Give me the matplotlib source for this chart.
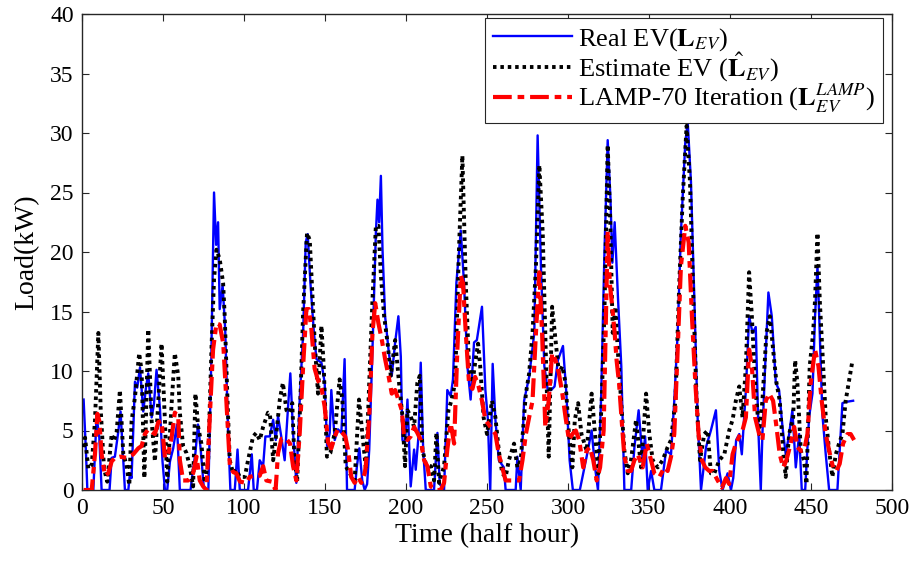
import matplotlib
matplotlib.use("Agg")
import matplotlib.pyplot as plt

# ---------------- data ----------------
t_real = [1, 2.5, 3.3, 7, 9, 10.7, 12.1, 17, 18.3, 20.3, 22.4, 23.8, 25.1, 26.5, 28.6, 29.6, 30.6,
          32.7, 34.1, 35.8, 37.8, 39.5, 40.9, 43, 44.4, 46, 48.1, 49.7, 51.2, 52.6, 54.3, 56.3, 58.6,
          60.4, 67, 68.5, 70, 71.6, 73.2, 75.2, 78, 79.6, 81.5, 82.8, 84, 85, 86.8, 88.4, 90.2, 91.6,
          94.3, 96, 97.4, 102.5, 104.8, 106, 108, 109.7, 111.8, 113.2, 115.9, 118, 119.6, 121, 123,
          125.1, 127.2, 128.6, 130.3, 132.3, 134.4, 136.5, 138.1, 139.3, 141, 143, 144.7, 147.8, 149.8,
          151.3, 152.9, 153.9, 156, 158, 160.1, 162.1, 163.6, 168.3, 169.7, 171.2, 173, 174.5, 176,
          177.3, 179.3, 181.4, 182.4, 183.4, 184.5, 185.5, 187.1, 189.2, 191.2, 193.3, 195.3, 196.8,
          197.8, 199.4, 200.9, 202.9, 205, 206, 207.7, 209.1, 210.6, 212.2, 217.3, 219.4, 220.8, 223.5,
          225.5, 227.6, 229, 231.1, 233.8, 235.8, 237.9, 239.9, 242, 243.75, 246.9, 249, 250.5, 252,
          253.5, 255.2, 257.3, 260.4, 261.5, 267.7, 268.75, 270.8, 272.9, 276, 279.2, 281.25, 283.3,
          285.4, 287.5, 289.6, 291.7, 293.75, 296.9, 299, 301, 303, 307.3, 311.5, 314.6, 316.7, 318.5,
          320.5, 322.5, 324.5, 326.2, 327.4, 328.8, 330.9, 332.9, 334.8, 339, 341, 343.6, 346.1, 347.6,
          349.2, 351.3, 353.3, 357.4, 360.5, 363.6, 365.6, 367.7, 369.7, 372.4, 373.9, 375.9, 378, 380,
          382.1, 385.2, 388.2, 391.3, 393.4, 395.4, 398.5, 400.6, 402, 403.8, 405.7, 407.3, 409.8,
          411.8, 413.9, 415.9, 417.6, 419, 420, 421.7, 423.7, 425.8, 428.3, 430.3, 432.4, 434.4, 436.5,
          438.5, 440.6, 442.7, 444.3, 446.4, 448.8, 450.9, 452.5, 454, 455.4, 457, 459.1, 461.2, 466.3,
          469.4, 471.4, 476]
real_ev = [7.6, 3.0, 0, 0, 6.2, 4.4, 0, 0, 2.7, 2.8, 4.9, 6.6, 3.5, 0, 0, 1.4, 1.0,
           9.1, 8.6, 10.3, 6.6, 8.6, 9.8, 6.1, 7.2, 10.1, 6.9, 2.4, 0, 0, 2.4, 3.5, 5.5,
           0, 0, 1.7, 3.1, 5.5, 3.5, 0.2, 0, 9.5, 25.0, 20.6, 22.5, 15.2, 17.2, 13.5, 4.8, 0,
           0, 3.4, 0, 0, 3.0, 0, 0, 2.5, 2.0, 4.5, 4.5, 5.9, 4.2, 6.2, 4.5,
           2.5, 7.0, 9.8, 4.8, 0.6, 7.6, 13.2, 20.8, 21.5, 17.4, 13.5, 11.0, 10.7, 9.0,
           3.7, 4.8, 8.4, 4.2, 5.1, 4.8, 11.0, 0, 0, 2.0, 3.5, 0.8, 0, 0.5,
           3.4, 11.8, 21.6, 24.4, 22.5, 26.4, 20.2, 14.6, 11.8, 9.6, 12.4, 14.6, 11.2,
           4.2, 3.9, 7.6, 0.3, 3.4, 1.7, 4.5, 10.7, 3.4, 0, 0, 4.8, 0.5, 0,
           8.4, 7.9, 9.3, 17.4, 21.8, 17.4, 10.4, 7.6, 12.4, 12.6, 15.4, 8.4, 6.0, 0,
           10.6, 5.9, 2.5, 1.9, 0, 0, 2.8, 0, 7.5, 9.5, 13.2, 29.8, 18.8,
           10.4, 8.4, 8.4, 8.7, 10.9, 12.1, 8.1, 2.5, 0, 0, 2.8, 5.0, 1.9, 0,
           8.0, 20.0, 29.4, 24.5, 19.1, 22.5, 16.0, 10.4, 0, 0, 3.6, 6.7, 2.5, 4.5,
           0, 1.6, 0, 0, 3.3, 3.0, 7.5, 13.2, 21.6, 29.2, 30.9, 25.9, 16.0, 6.1,
           0, 3.6, 5.0, 6.7, 1.6, 0, 1.4, 0, 1.0, 4.2, 4.7, 3.0, 8.4,
           14.6, 13.2, 13.7, 4.7, 0, 4.7, 10.4, 16.6, 14.6, 9.0, 8.4, 5.3, 3.0, 4.7,
           6.7, 1.9, 4.7, 0, 0, 6.1, 8.1, 14.6, 18.8, 13.2, 6.4, 3.0, 0, 0,
           7.3, 7.4, 7.5]

t_est = [1, 1.9, 3.9, 6, 8, 10.1, 11.5, 13.6, 15.6, 18.3, 19.7, 21.4, 23.4, 25.5, 27.5, 29.2, 30.6,
         32.7, 35.3, 36.8, 38.5, 40.9, 43, 45, 49.1, 51.2, 52.6, 55.3, 57.3, 59.4, 60.4, 62.4, 64.5,
         66.5, 68.6, 70, 71.7, 73.7, 75.8, 77.9, 79.9, 81.5, 83, 85, 87.1, 88.1, 89.8, 91.2, 93.3,
         95.3, 97.4, 100.5, 102.5, 105.6, 107.6, 109.7, 111.8, 114.8, 116, 118, 120, 122.1, 124,
         126.2, 128.2, 129.8, 131, 132.8, 134.8, 136.5, 138.9, 140.6, 142.2, 143.8, 145.7, 147.8,
         149.2, 151.2, 153.3, 156, 159, 160.7, 162.8, 165.2, 168.3, 171, 173, 175.3, 177.3, 179.3,
         181.4, 183, 184.5, 186.5, 188.6, 190.6, 193.3, 195.7, 197.8, 199.4, 200.9, 202.9, 205, 207,
         208.5, 210.1, 212.2, 215.3, 217.3, 218.8, 220.4, 223.5, 226.2, 228.2, 230.3, 232.7, 234.8,
         236.9, 238.9, 241, 243, 244.5, 245.8, 247.9, 250, 253.1, 255.2, 257.3, 259.4, 261.5, 263.5,
         266.7, 268.75, 270.8, 274, 276, 278.1, 280.2, 282.3, 284.4, 286.5, 288.1, 290.2, 292.3,
         294.4, 296.5, 298.5, 300.6, 302.7, 304.2, 306.25, 308.3, 311.5, 314.6, 316.7, 318.75,
         320.8, 322.5, 324.5, 326, 327.6, 329.3, 330.7, 332.8, 334.8, 336.9, 338.9, 342, 345.1,
         348.2, 350.2, 352.3, 355.4, 358.4, 361.5, 363.6, 366.3, 368.7, 370.8, 373.2, 375.3, 377.4,
         379.4, 381.5, 384.1, 386.2, 388.2, 390.3, 393.4, 396.5, 399.5, 401.6, 403.6, 405.7, 407.7,
         409.8, 411.8, 413.5, 415.5, 418, 420, 422.5, 424.6, 426.6, 428.7, 430.7, 432.8, 434.4,
         436.5, 439, 440.2, 441.6, 443.7, 445.7, 447.2, 449.2, 451.3, 452.5, 454, 455.4, 457, 459.1,
         461.2, 463.2, 465.3, 467.3, 469.4, 471.4, 473.5, 475.5]
est_ev = [3.6, 4.4, 1.8, 2.1, 5.8, 13.2, 6.9, 1.8, 0.7, 4.7, 4.1, 4.9, 8.4, 3.0, 2.1, 0.4, 5.8,
          7.8, 11.5, 10.0, 1.0, 13.5, 5.8, 2.4, 12.3, 5.8, 0.7, 7.2, 11.5, 9.6, 6.5, 3.7, 3.1,
          2.0, 0.3, 8.1, 5.3, 3.9, 0.6, 2.5, 11.8, 17.7, 20.2, 19.4, 17.4, 14.6, 7.6, 2.5, 1.4,
          1.7, 1.1, 1.1, 2.5, 4.5, 4.8, 4.2, 5.3, 6.5, 6.4, 2.5, 4.8, 7.6, 9.0,
          6.7, 6.5, 7.3, 3.0, 0.7, 7.6, 15.0, 21.6, 21.0, 16.5, 12.0, 8.1, 13.8,
          10.4, 2.8, 3.1, 4.8, 9.3, 7.6, 2.0, 1.4, 0.8, 7.6, 4.8, 1.7, 9.0, 16.0,
          22.2, 22.2, 18.0, 14.6, 12.4, 9.6, 12.6, 9.0, 6.2, 2.0, 6.7, 6.2, 5.3, 9.0,
          9.6, 3.4, 2.2, 2.0, 0.8, 4.8, 0.6, 2.0, 6.7, 7.6, 9.0, 20.2, 28.1,
          17.4, 10.4, 9.0, 11.0, 12.3, 10.4, 6.1, 4.7, 7.5, 6.1, 3.3, 1.4, 1.1, 2.5,
          3.9, 1.9, 2.5, 8.1, 9.8, 13.2, 18.8, 27.3, 21.6, 10.4, 2.8, 15.4, 12.6,
          9.8, 10.4, 9.0, 4.7, 1.9, 5.9, 7.3, 4.7, 3.3, 8.1, 4.7, 1.4,
          7.5, 15.0, 29.0, 23.0, 13.2, 15.4, 11.8, 7.5, 3.3, 1.4, 2.5, 5.9, 1.9,
          8.1, 4.7, 2.5, 1.9, 2.5, 3.6, 4.2, 7.5, 17.4, 24.5, 30.6, 25.9, 16.0,
          7.5, 2.5, 4.7, 5.0, 1.4, 1.4, 2.5, 3.0, 5.0, 5.9, 7.5, 8.7, 6.1,
          10.4, 18.3, 14.6, 9.0, 4.7, 7.5, 13.2, 14.6, 11.8, 9.0, 7.5, 3.3, 1.1,
          4.7, 6.1, 10.9, 9.0, 3.3, 2.5, 0.5, 10.4, 13.2, 16.0, 21.6, 16.0, 11.8, 6.1,
          3.3, 1.1, 3.0, 3.9, 4.7, 7.5, 9.2, 10.8]

t_lamp = [1, 6, 8, 9.5, 10.7, 12.1, 14.2, 16.2, 18.3, 20.3, 23.4, 27.5, 31.6, 34.7, 36.8, 38.8, 40.9,
          43, 45, 47.1, 49.1, 51.2, 53.2, 55.3, 57.3, 59.4, 60.4, 62.4, 65.5, 68.6, 70.7, 72.7, 74.8,
          76.8, 78.9, 80.9, 83, 85, 87.2, 89.3, 91.3, 93.4, 95.3, 97.5, 101.5, 103.5, 106.5, 109.7,
          111.8, 113.8, 117, 119.5, 121, 123.1, 126.2, 128.4, 130.3, 132.3, 134.4, 136.5, 138.5,
          140.1, 141.6, 143.6, 145.7, 147.8, 149.8, 151.9, 153.9, 156, 158, 160.1, 162.5, 164.2,
          166.2, 168.3, 170.4, 172.4, 174.5, 175.2, 177.3, 179.3, 181, 183, 185.1, 187.1, 189.2,
          191.2, 193.3, 195.3, 197.4, 198.8, 200.9, 202.9, 205, 207, 209.1, 211.2, 213.2, 215.3,
          218.4, 221.4, 223.5, 225.5, 227.6, 229.7, 231.7, 233.8, 235.2, 236.9, 238.9, 241, 242.7,
          244.8, 246.9, 249, 252.1, 255.2, 257.3, 259.4, 261.5, 265.6, 269.8, 271.9, 274, 276,
          278.1, 280.2, 282.3, 284, 286, 288.1, 290.2, 292.3, 294.4, 296.5, 298.5, 300.6, 302.7,
          304.8, 306.9, 309.4, 311.5, 313.5, 315.6, 317.7, 319.8, 322, 324.5, 325.8, 327.3, 328.8,
          330, 331.5, 333, 334.8, 336.9, 338.9, 341, 343, 346.1, 348.6, 351.3, 353.3, 356.4, 359.5,
          361.5, 363.6, 365.6, 367.7, 369.7, 372.4, 374.5, 376.5, 378.6, 380.6, 382.7, 384.7, 387.2,
          389.3, 392.4, 395, 397.5, 399.5, 401.6, 403.6, 405.7, 407.7, 409.8, 411.8, 413.5, 415.5,
          418, 420, 422.1, 424.2, 426.6, 428.7, 430.7, 432.8, 434.8, 437.5, 439.6, 441.6, 443.7,
          445.7, 447.8, 449.8, 452.5, 454.6, 456.6, 459.1, 461.2, 463.6, 465.7, 467.7, 469.8, 472.5,
          474.5, 476.6]
lamp_ev = [0, 0, 3.0, 6.4, 5.8, 3.0, 1.2, 1.4, 2.4, 2.7, 2.8, 2.7, 3.0, 3.5, 3.7, 4.7, 5.1,
           4.9, 4.7, 5.7, 5.8, 2.7, 3.0, 4.4, 6.5, 6.2, 2.5, 0.8, 0.8, 1.4, 2.8, 0.8, 0.3,
           0, 6.2, 11.8, 14.0, 13.9, 12.3, 7.0, 2.0, 1.5, 1.4, 0.7, 0.6, 1.1, 1.2, 1.2,
           2.0, 0.8, 0.7, 0, 3.1, 4.3, 4.3, 3.9, 2.0, 0.8, 4.8, 10.4, 15.2,
           15.2, 13.5, 10.2, 9.2, 8.6, 7.0, 4.0, 3.5, 4.5, 5.1, 4.9, 4.5, 3.4,
           1.1, 0.6, 1.1, 0.6, 1.4, 2.0, 6.2, 13.2, 15.7, 14.0, 12.6, 11.0, 9.6,
           8.1, 8.4, 7.6, 6.7, 4.5, 4.2, 4.5, 5.3, 4.8, 4.2, 2.5, 2.0, 0.3,
           0, 0, 0.6, 3.4, 5.6, 3.9, 11.8, 18.0, 17.4, 13.2, 9.0, 8.5, 9.5,
           8.7, 7.5, 5.9, 5.3, 4.7, 3.0, 1.9, 0.8, 0.8, 0.8, 2.5, 4.7, 6.1,
           7.5, 13.2, 18.3, 13.2, 5.3, 7.5, 11.5, 10.9, 9.8, 8.1, 6.1, 4.2, 4.7,
           5.0, 4.2, 1.9, 3.3, 3.6, 2.5, 0.8, 1.9, 5.0, 21.8, 17.4, 15.4, 13.2,
           10.9, 9.0, 6.1, 2.8, 1.6, 1.6, 2.5, 3.0, 1.9, 3.9, 2.5, 1.4, 1.1, 1.9,
           1.6, 2.8, 4.7, 11.8, 18.8, 22.2, 20.8, 14.6, 9.0, 4.7, 2.5, 1.9, 1.6,
           1.6, 0.8, 0.2, 1.0, 0.5, 3.0, 3.9, 4.5, 5.0, 6.1, 11.8, 10.4, 6.1,
           4.7, 4.2, 7.5, 8.1, 7.5, 5.3, 3.0, 1.9, 2.5, 3.9, 5.3, 3.6, 3.3,
           3.3, 4.7, 9.0, 11.8, 10.4, 7.5, 4.7, 3.3, 1.9, 1.6, 2.2, 3.9, 4.7,
           4.7, 4.2]

x_ticks = [0, 50, 100, 150, 200, 250, 300, 350, 400, 450, 500]
y_ticks = [0, 5, 10, 15, 20, 25, 30, 35, 40]
labels = [r'Real EV($\mathbf{L}_{EV}$)',
          r'Estimate EV ($\hat{\mathbf{L}}_{EV}$)',
          r'LAMP-70 Iteration ($\mathbf{L}_{EV}^{LAMP}$)']

# ---------------- style ----------------
plt.rcParams['font.family'] = ['Liberation Serif', 'DejaVu Serif']
plt.rcParams['mathtext.fontset'] = 'stix'

fig = plt.figure(figsize=(9.09, 5.69), dpi=100)
ax = fig.add_axes([82 / 909, 1 - 490 / 569, (892 - 82) / 909, (490 - 14) / 569])

ax.plot(t_real, real_ev, color=(0, 0, 1), lw=1.7, label=labels[0], zorder=2)
ax.plot(t_est, est_ev, color='black', lw=2.8, linestyle=(0, (0.9, 1.0)), label=labels[1], zorder=3)
ax.plot(t_lamp, lamp_ev, color=(1, 0, 0), lw=3.0, linestyle=(0, (4.5, 1.4, 1.6, 1.4)),
        label=labels[2], zorder=4)

ax.set_xlim(0, 500)
ax.set_ylim(0, 40)
ax.set_xticks(x_ticks)
ax.set_yticks(y_ticks)
ax.tick_params(direction='in', top=True, right=True, length=5, width=0.8,
               labelsize=17, color='#262626', pad=6)
for s in ax.spines.values():
    s.set_linewidth(1.0)
    s.set_color('#262626')

ax.set_xlabel('Time (half hour)', fontsize=20, labelpad=3)
ax.set_ylabel('Load(kW)', fontsize=20, labelpad=8)

leg = ax.legend(loc='upper right', bbox_to_anchor=(0.989, 0.992), borderaxespad=0,
                fontsize=19, frameon=True, fancybox=False, framealpha=1,
                edgecolor='#262626', handlelength=3.0, handletextpad=0.25,
                labelspacing=-0.08, borderpad=0.3)
leg.get_frame().set_linewidth(0.8)

fig.savefig('out.png', dpi=100)
